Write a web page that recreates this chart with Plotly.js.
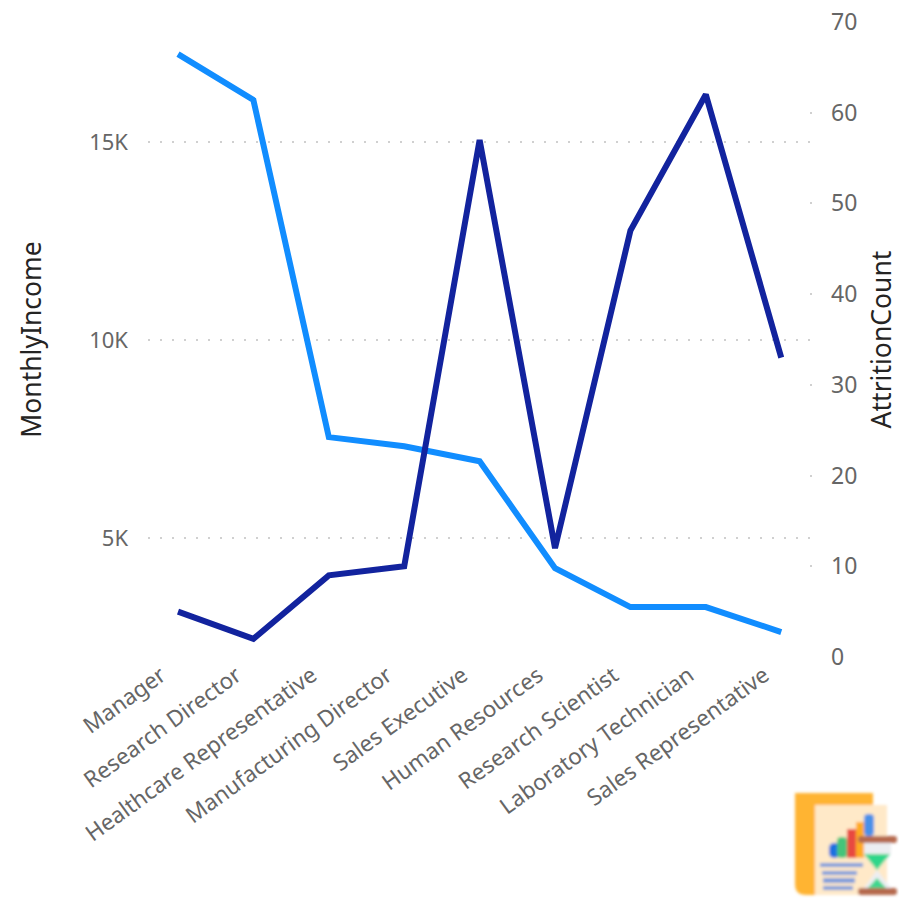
<!DOCTYPE html>
<html><head><meta charset="utf-8"><script src="https://cdn.plot.ly/plotly-3.0.0.min.js"></script>
<style>html,body{margin:0;padding:0;background:#fff}</style></head><body><div id="c" style="width:899px;height:898px"></div>
<script>
const categories=["Manager","Research Director","Healthcare Representative","Manufacturing Director","Sales Executive","Human Resources","Research Scientist","Laboratory Technician","Sales Representative"];
const income=[17220,16060,7550,7320,6940,4240,3260,3260,2630];
const attrition=[5,2,9,10,57,12,47,62,33];
const yTicks=[5000,10000,15000];
const yLabels=["5K","10K","15K"];
const y2Ticks=[0,10,20,30,40,50,60,70];
const F='"Noto Sans", "Open Sans", sans-serif';
const gray='#666666';
const iconSvg=`<svg xmlns="http://www.w3.org/2000/svg" width="119" height="118" viewBox="0 0 119 118"><defs><filter id="b" x="-10%" y="-10%" width="120%" height="120%"><feGaussianBlur stdDeviation="1.6"/></filter></defs><g filter="url(#b)">
<rect x="35" y="25" width="72" height="90" fill="#ffe9c8"/>
<path d="M15 13H93V25H35V115H26Q15 115 15 104Z" fill="#ffb433"/>
<rect x="49" y="63" width="11" height="15" rx="5" fill="#1f6fe0"/>
<rect x="57" y="57" width="10" height="21" rx="4" fill="#45c47a"/>
<rect x="67" y="49" width="10" height="29" fill="#e8483f"/>
<rect x="76" y="42" width="8" height="36" fill="#ffaa22"/>
<rect x="84" y="34" width="10" height="22" rx="4" fill="#4a90e8"/>
<g fill="#7c9cdc"><rect x="40" y="83" width="43" height="4"/><rect x="42" y="91" width="35" height="4"/><rect x="43" y="98" width="32" height="5"/><rect x="43" y="106" width="30" height="4"/></g>
<path d="M84 63H111V74L97 90L111 108H84L97 90L84 74Z" fill="#eceef2"/>
<path d="M84 74H110L97 90Z" fill="#2fd68a"/><path d="M88 108H106L97 98Z" fill="#3ed68e"/>
<rect x="78" y="56" width="39" height="7" rx="3" fill="#b5694e"/><rect x="78" y="108" width="39" height="7" rx="3" fill="#b5694e"/>
</g></svg>`;
Plotly.newPlot('c',[
{x:categories,y:income,type:'scatter',mode:'lines',line:{color:'#118DFF',width:6},yaxis:'y',cliponaxis:false},
{x:categories,y:attrition,type:'scatter',mode:'lines',line:{color:'#12239E',width:6},yaxis:'y2',cliponaxis:false}
],{
width:899,height:898,showlegend:false,paper_bgcolor:'#fff',plot_bgcolor:'#fff',
margin:{l:148,r:87,t:22,b:241,pad:0},
font:{family:F,color:gray},
xaxis:{type:'category',tickangle:-36,tickfont:{size:22.5,color:gray,family:F},showgrid:false,zeroline:false,showline:false,ticks:'',automargin:false,range:[-0.398,8.408],ticklabelshift:-17},
yaxis:{range:[2000,18030],tickvals:yTicks,ticktext:yLabels,tickfont:{size:22,color:gray,family:F},showgrid:true,gridcolor:'#d0d0d0',griddash:'2px,10px',gridwidth:2,zeroline:false,showline:false,ticks:'',ticklabelstandoff:19,title:{text:'MonthlyIncome',font:{size:26.5,color:'#252423',family:F},standoff:39},automargin:false},
yaxis2:{overlaying:'y',side:'right',range:[0,70],tickvals:y2Ticks,tickfont:{size:23,color:gray,family:F},showgrid:false,zeroline:false,showline:false,ticks:'inside',ticklen:2,tickwidth:2,tickcolor:'#d0d0d0',ticklabelstandoff:18,title:{text:'AttritionCount',font:{size:26.5,color:'#252423',family:F},standoff:32},automargin:false},
images:[{source:'data:image/svg+xml;utf8,'+encodeURIComponent(iconSvg),xref:'paper',yref:'paper',xanchor:'left',yanchor:'top',sizing:'stretch',layer:'above',
 x:(780-148)/664,y:(657-780)/635,sizex:119/664,sizey:118/635}]
},{displayModeBar:false,staticPlot:true});
</script></body></html>
